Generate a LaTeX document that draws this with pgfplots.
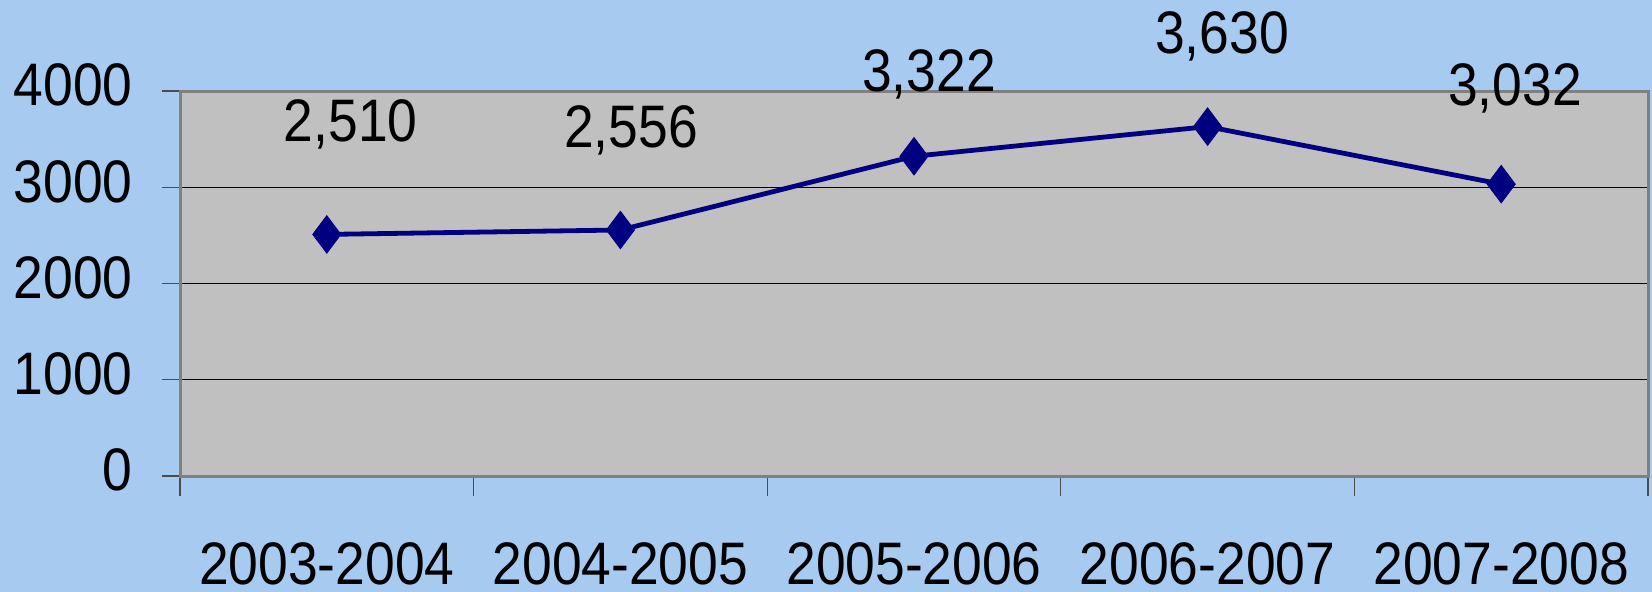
\documentclass[border=0pt]{standalone}
\usepackage{fontspec}
\setmainfont{Liberation Sans}[FakeStretch=0.89]
\usepackage{pgfplots}
\usepackage{pgfplotstable}
\pgfplotsset{compat=1.18}
\definecolor{bgblue}{HTML}{A6CAF0}
\definecolor{plotgray}{HTML}{C0C0C0}
\definecolor{navy}{HTML}{000080}
\definecolor{framegray}{HTML}{808080}
\pgfplotstableread{
x y lab dx dy
0 2510 2,510 12 56.7
1 2556 2,556 5.3 51.5
2 3322 3,322 7.5 43.1
3 3630 3,630 7.2 46.8
4 3032 3,032 6.9 49.6
}\data
\begin{document}
\begin{tikzpicture}
\path[use as bounding box, fill=bgblue] (0,0) rectangle (826bp,296bp);
\begin{axis}[
  at={(90bp,58bp)}, anchor=south west,
  scale only axis, width=734bp, height=192.5bp,
  xmin=-0.5, xmax=4.5, ymin=0, ymax=4000,
  clip=false,
  axis background/.style={fill=plotgray},
  axis line style={draw=framegray, line width=1.5bp},
  ytick={0,1000,2000,3000,4000},
  xtick={0,1,2,3,4},
  xticklabels={2003-2004,2004-2005,2005-2006,2006-2007,2007-2008},
  minor xtick={-0.5,0.5,1.5,2.5,3.5,4.5},
  tick pos=left,
  tick align=outside,
  major tick length=9bp,
  minor tick length=10bp,
  major x tick style={draw=none},
  minor x tick style={draw=black!70, line width=0.6bp},
  major y tick style={draw=black!70, line width=0.6bp},
  ymajorgrids,
  major grid style={black, line width=0.5bp},
  /pgf/number format/assume math mode=true,
  /pgf/number format/1000 sep={},
  ticklabel style={font=\fontsize{30bp}{36bp}\selectfont, inner sep=0pt, text depth=0pt},
  yticklabel style={anchor=east, xshift=-14.5bp, yshift=3bp},
  xticklabel style={anchor=north, yshift=-24bp},
]
\addplot[navy, line width=2.4bp, mark=diamond*, mark size=9.3bp,
  mark options={fill=navy, draw=navy, line width=0.5bp},
  point meta=explicit symbolic,
  visualization depends on={\thisrow{dx}\as\mydx},
  visualization depends on={\thisrow{dy}\as\mydy},
  nodes near coords={\pgfplotspointmeta},
  nodes near coords style={anchor=center, inner sep=0pt, text depth=0pt,
    xshift=\mydx bp, yshift=\mydy bp, text=black,
    font=\fontsize{30bp}{36bp}\selectfont}]
  table[x=x, y=y, meta=lab]{\data};
\end{axis}
\end{tikzpicture}
\end{document}
